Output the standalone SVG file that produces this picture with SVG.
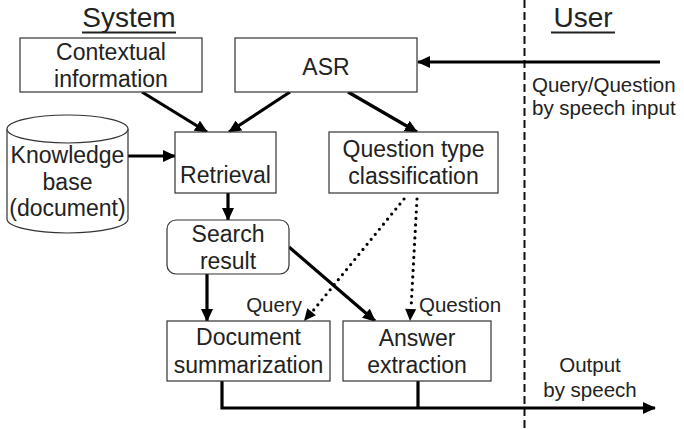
<svg xmlns="http://www.w3.org/2000/svg" width="684" height="429" viewBox="0 0 684 429">
<defs>
<marker id="ah" markerUnits="userSpaceOnUse" markerWidth="14" markerHeight="12" refX="12" refY="6" orient="auto">
<path d="M0,0 L13,6 L0,12 Z" fill="#000"/>
</marker>
<style>
.box{fill:#fff;stroke:#333;stroke-width:1.2}
.t{font-family:"Liberation Sans",Arial,sans-serif;font-size:23px;fill:#222;text-anchor:middle}
.s{font-family:"Liberation Sans",Arial,sans-serif;font-size:20.5px;fill:#222}
.h{font-family:"Liberation Sans",Arial,sans-serif;font-size:28px;fill:#222;text-anchor:middle}
.a{fill:none;stroke:#000;stroke-width:3.2}
.d{fill:none;stroke:#000;stroke-width:3.2;stroke-dasharray:0 6.5;stroke-linecap:round}
</style>
</defs>
<rect width="684" height="429" fill="#fff"/>
<g id="divider"><line x1="524.5" y1="0" x2="524.5" y2="429" stroke="#111" stroke-width="2" stroke-dasharray="8 4"/></g>
<g id="title-system"><text class="h" x="129" y="27">System</text><line x1="82" y1="32.5" x2="176" y2="32.5" stroke="#222" stroke-width="1.8"/></g>
<g id="title-user"><text class="h" x="583" y="27">User</text><line x1="551" y1="32.5" x2="615" y2="32.5" stroke="#222" stroke-width="1.8"/></g>
<g id="connectors">
<line class="a" x1="142" y1="92" x2="207" y2="132" marker-end="url(#ah)"/>
<line class="a" x1="290" y1="92" x2="229" y2="132" marker-end="url(#ah)"/>
<line class="a" x1="348" y1="92" x2="417" y2="132" marker-end="url(#ah)"/>
<line class="a" x1="660" y1="62" x2="418" y2="62" marker-end="url(#ah)"/>
<line class="a" x1="128" y1="156" x2="175" y2="156" marker-end="url(#ah)"/>
<line class="a" x1="228" y1="193" x2="228" y2="220" marker-end="url(#ah)"/>
<line class="a" x1="207" y1="274" x2="207" y2="321" marker-end="url(#ah)"/>
<line class="a" x1="289" y1="247" x2="375" y2="321" marker-end="url(#ah)"/>
<line class="d" x1="404" y1="199" x2="312" y2="312"/>
<line class="d" x1="417" y1="199" x2="411" y2="309"/>
<path d="M304,321 L315.9,315.2 L307.3,308.2 Z" fill="#000"/>
<path d="M410,321 L416.2,309.3 L405.2,308.7 Z" fill="#000"/>
<polyline class="a" points="222,381 222,408 655,408" marker-end="url(#ah)"/>
<line class="a" x1="418" y1="381" x2="418" y2="408"/>
</g>
<g id="contextual"><rect class="box" x="20" y="38" width="182" height="54"/><text class="t" x="111" y="60">Contextual</text><text class="t" x="111" y="87">information</text></g>
<g id="asr"><rect class="box" x="235" y="38" width="182" height="54"/><text class="t" x="326" y="74.5">ASR</text></g>
<g id="knowledge">
<path class="box" d="M7,129 L7,219 A60.5,14 0 0 0 128,219 L128,129"/>
<ellipse class="box" cx="67.5" cy="129" rx="60.5" ry="14"/>
<text class="t" x="67.5" y="163">Knowledge</text><text class="t" x="67.5" y="190">base</text><text class="t" x="67.5" y="216">(document)</text>
</g>
<g id="retrieval"><rect class="box" x="175" y="132" width="101" height="61"/><text class="t" x="225.5" y="183">Retrieval</text></g>
<g id="qtype"><rect class="box" x="329" y="132" width="169" height="61"/><text class="t" x="413.5" y="157">Question type</text><text class="t" x="413.5" y="184">classification</text></g>
<g id="search"><rect class="box" x="167" y="220" width="122" height="54" rx="9"/><text class="t" x="228" y="242">Search</text><text class="t" x="228" y="269">result</text></g>
<g id="docsum"><rect class="box" x="167" y="321" width="163" height="60"/><text class="t" x="248.5" y="345">Document</text><text class="t" x="248.5" y="373">summarization</text></g>
<g id="answer"><rect class="box" x="343" y="321" width="148" height="60"/><text class="t" x="417" y="346">Answer</text><text class="t" x="417" y="373">extraction</text></g>
<g id="labels">
<text class="s" x="302" y="312" text-anchor="end">Query</text>
<text class="s" x="419" y="312">Question</text>
<text class="s" x="532" y="92">Query/Question</text>
<text class="s" x="532" y="115">by speech input</text>
<text class="s" x="590" y="372" text-anchor="middle">Output</text>
<text class="s" x="590" y="397" text-anchor="middle">by speech</text>
</g>
</svg>
